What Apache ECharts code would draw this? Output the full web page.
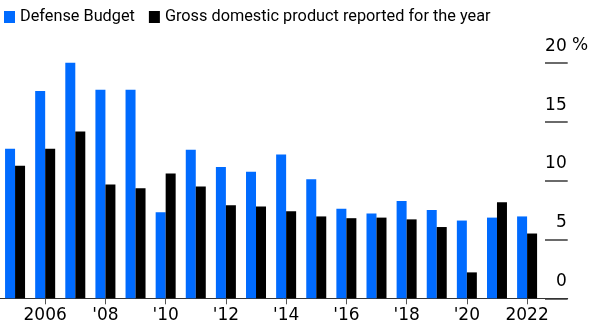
<!DOCTYPE html>
<html>
<head>
<meta charset="utf-8">
<script src="https://cdn.jsdelivr.net/npm/echarts@6/dist/echarts.min.js"></script>
<style>
html,body{margin:0;padding:0;background:#fff;}
#chart{width:590px;height:328px;}
</style>
</head>
<body>
<div id="chart"></div>
<script>
const years = ['2005','2006','2007','2008','2009','2010','2011','2012','2013','2014','2015','2016','2017','2018','2019','2020','2021','2022'];
const tickLabels = {'2006':'2006','2008':"'08",'2010':"'10",'2012':"'12",'2014':"'14",'2016':"'16",'2018':"'18",'2020':"'20",'2022':'2022'};
const defenseBudget = [12.7, 17.6, 21.0, 17.7, 17.7, 7.3, 12.6, 11.15, 10.75, 12.2, 10.1, 7.6, 7.2, 8.25, 7.5, 6.6, 6.85, 6.95];
const gdpGrowth = [11.25, 12.7, 14.15, 9.65, 9.35, 10.6, 9.5, 7.9, 7.8, 7.4, 6.95, 6.8, 6.85, 6.7, 6.05, 2.2, 8.15, 5.5];
const yTicks = [0, 5, 10, 15, 20];

const chart = echarts.init(document.getElementById('chart'), null, {renderer:'canvas'});
const TOP = 62.7, H = 235.6;
const labelFont = 'DejaVu Sans';
chart.setOption({
  animation: false,
  legend: {
    left: 4, top: 8, padding: 0, itemGap: 14,
    itemWidth: 11, itemHeight: 12, icon: 'rect',
    textStyle: {fontFamily: 'Roboto', fontSize: 16.3, color: '#000', lineHeight: 18},
    data: ['Defense Budget', 'Gross domestic product reported for the year']
  },
  grid: [
    {left: -3.15, width: 545.3, top: TOP, height: H},
    {left: 545, width: 22.7, top: TOP, height: H},
    {left: 0, width: 567.7, top: TOP, height: H}
  ],
  xAxis: [
    {
      type: 'category', gridIndex: 0, data: years,
      axisLine: {show: false},
      axisTick: {show: true, alignWithLabel: true, length: 6, interval: (i) => i % 2 === 1, lineStyle: {color: '#555', width: 1}},
      axisLabel: {interval: (i) => i % 2 === 1, formatter: (v) => tickLabels[v] || '', margin: 9,
        fontFamily: labelFont, fontSize: 17, color: '#000', lineHeight: 17}
    },
    {type: 'value', gridIndex: 1, show: false},
    {type: 'value', gridIndex: 2, min: 0, max: 1, axisLine: {show: true, lineStyle: {color: '#333', width: 1}},
      axisTick: {show: false}, axisLabel: {show: false}, splitLine: {show: false}}
  ],
  yAxis: [
    {type: 'value', gridIndex: 0, min: 0, max: 20, interval: 5, show: false},
    {
      type: 'value', gridIndex: 1, min: 0, max: 20, interval: 5, position: 'right',
      axisLine: {show: false}, axisTick: {show: false},
      splitLine: {show: true, lineStyle: {color: '#6a6a6a', width: 2}},
      axisLabel: {inside: true, margin: 1, verticalAlign: 'bottom', padding: [0, 0, 8, 0],
        fontFamily: labelFont, fontSize: 17, color: '#000', lineHeight: 17,
        formatter: (v) => yTicks.includes(v) ? String(v) : ''}
    },
    {type: 'value', gridIndex: 2, show: false}
  ],
  graphic: [
    {type: 'text', left: 572, top: 37, style: {text: '%', font: '17px "DejaVu Sans"', fill: '#000'}}
  ],
  series: [
    {name: 'Defense Budget', type: 'bar', xAxisIndex: 0, yAxisIndex: 0, data: defenseBudget,
      barWidth: 10, barGap: '0%', itemStyle: {color: '#006bff'}},
    {name: 'Gross domestic product reported for the year', type: 'bar', xAxisIndex: 0, yAxisIndex: 0, data: gdpGrowth,
      barWidth: 10, barGap: '0%', itemStyle: {color: '#000'}}
  ]
});
</script>
</body>
</html>
